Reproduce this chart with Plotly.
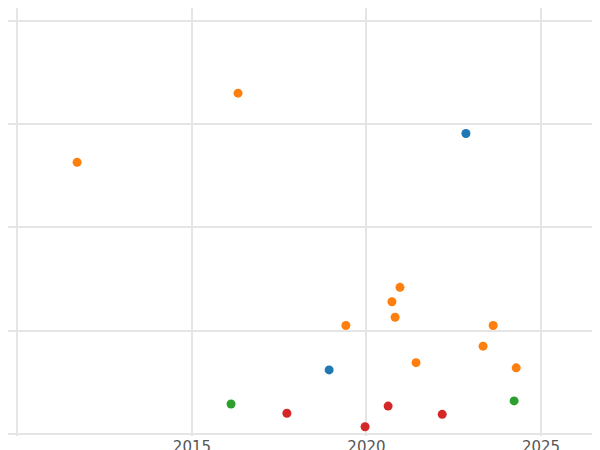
import plotly.graph_objects as go

orange_x = [2016.32, 2011.71, 2020.96, 2020.73, 2020.82, 2019.41, 2023.63, 2023.34, 2021.42, 2024.29]
orange_y = [3.30, 2.63, 1.42, 1.28, 1.13, 1.05, 1.05, 0.85, 0.69, 0.64]
blue_x = [2022.85, 2018.93]
blue_y = [2.91, 0.62]
green_x = [2016.12, 2024.23]
green_y = [0.29, 0.32]
red_x = [2017.72, 2019.96, 2020.62, 2022.17]
red_y = [0.20, 0.07, 0.27, 0.19]

fig = go.Figure()
for xs, ys, c in [(orange_x, orange_y, "#ff7f0e"), (blue_x, blue_y, "#1f77b4"),
                  (green_x, green_y, "#2ca02c"), (red_x, red_y, "#d62728")]:
    fig.add_trace(go.Scatter(x=xs, y=ys, mode="markers",
                             marker=dict(color=c, size=9), showlegend=False))
fig.update_layout(
    width=600, height=450, plot_bgcolor="white", paper_bgcolor="white",
    margin=dict(l=0, r=0, t=0, b=22, pad=0),
    font=dict(family="DejaVu Sans", size=15, color="#555"),
)
fig.update_xaxes(range=[2009.73, 2026.92], tickvals=[2010, 2015, 2020, 2025],
                 ticktext=["", "2015", "2020", "2025"], automargin=False,
                 showgrid=True, gridcolor="#e5e5e5", gridwidth=2, zeroline=False)
fig.update_yaxes(range=[-0.02, 4.125], tickvals=[0, 1, 2, 3, 4], showticklabels=False,
                 automargin=False,
                 showgrid=True, gridcolor="#e5e5e5", gridwidth=2, zeroline=False)
fig.write_html("out.html")
